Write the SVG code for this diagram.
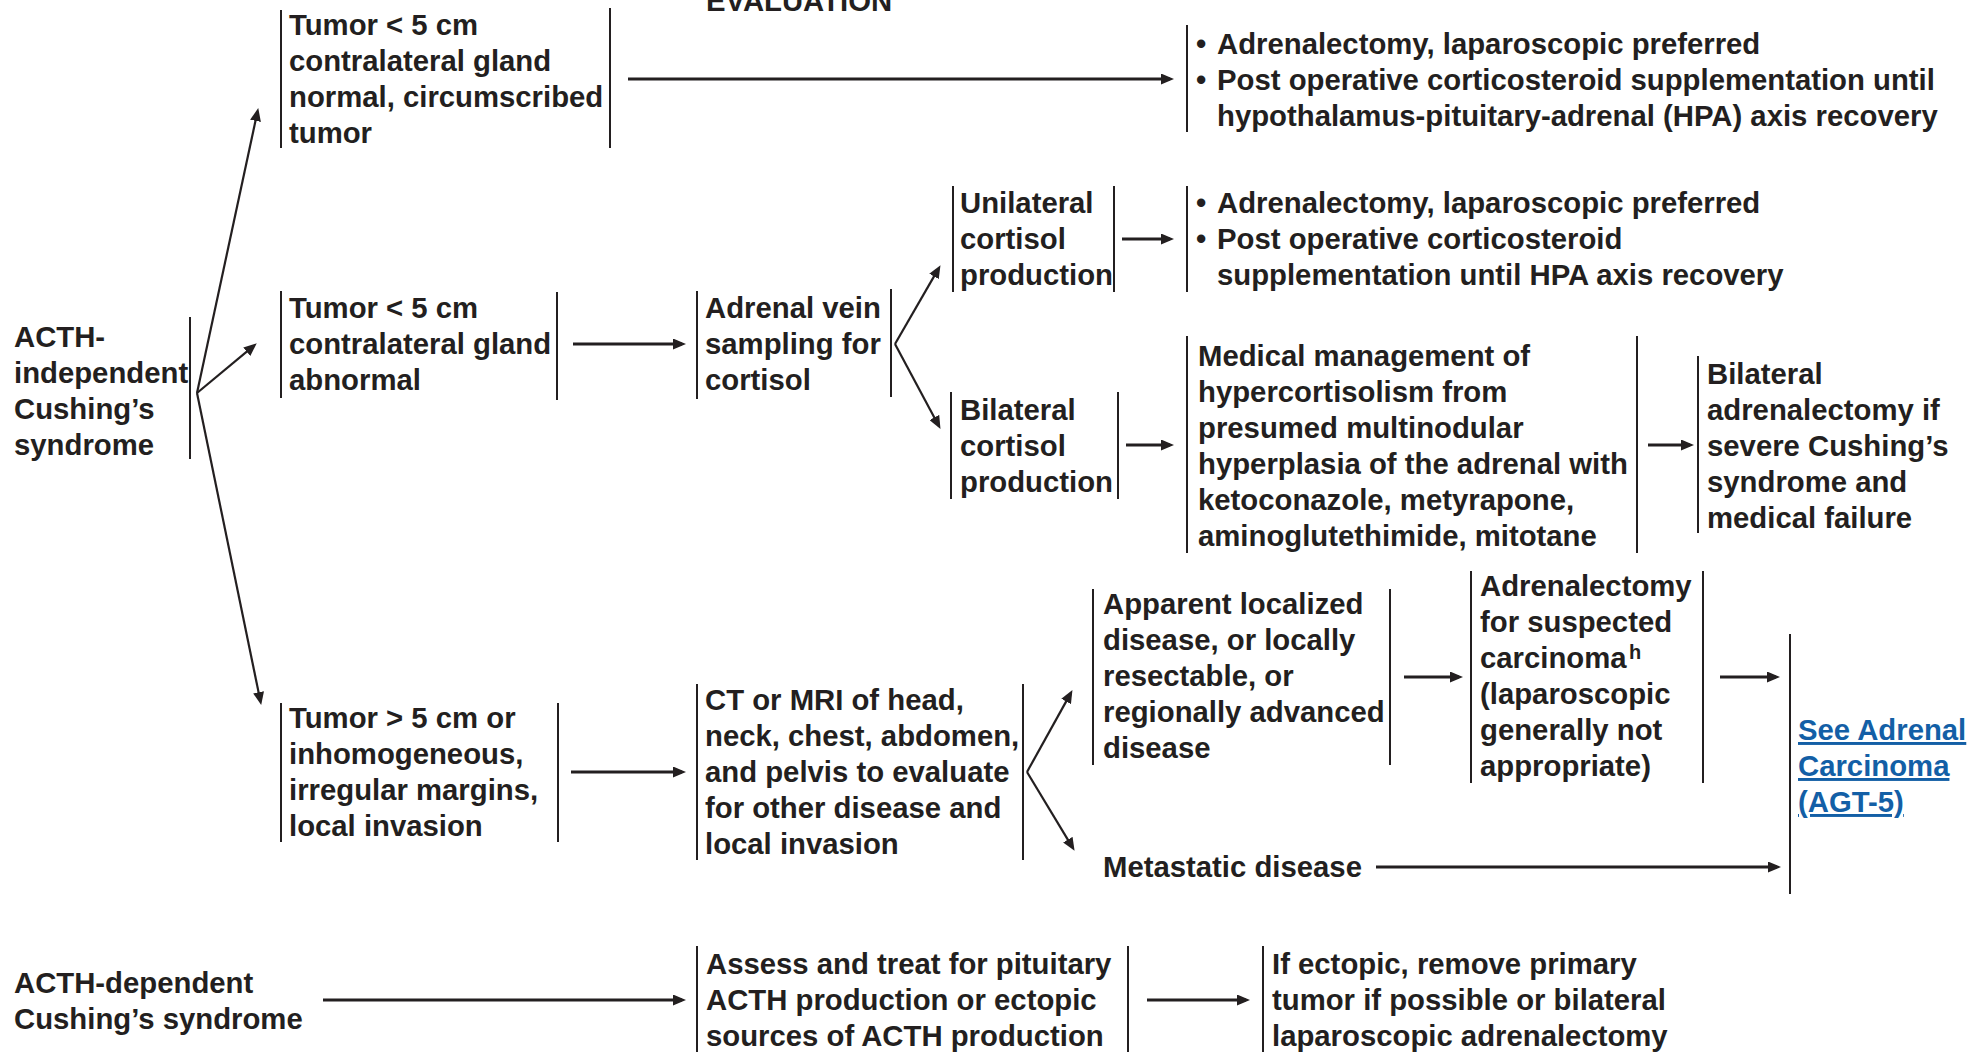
<svg xmlns="http://www.w3.org/2000/svg" width="1988" height="1052" viewBox="0 0 1988 1052">
<style>
  text { font-family: "Liberation Sans", Arial, sans-serif; font-weight: bold; font-size: 29.3px; fill: #231f20; }
  .sup { font-size: 20px; }
  .link { fill: #135fa6; text-decoration: underline; }
  .bar { stroke: #231f20; stroke-width: 2; fill: none; }
  .arr { stroke: #231f20; stroke-width: 2.8; fill: none; marker-end: url(#ah); }
  .br { stroke: #231f20; stroke-width: 2.2; fill: none; marker-end: url(#ah); }
</style>
<defs>
  <marker id="ah" markerUnits="userSpaceOnUse" markerWidth="13" markerHeight="11" refX="9" refY="5.5" orient="auto">
    <path d="M0,0 L13,5.5 L0,11 z" fill="#231f20"/>
  </marker>
</defs>
<rect width="1988" height="1052" fill="#ffffff"/>

<text x="706" y="11">EVALUATION</text>

<g id="acth-independent">
  <text x="14" y="347">ACTH-</text>
  <text x="14" y="383">independent</text>
  <text x="14" y="419">Cushing’s</text>
  <text x="14" y="455">syndrome</text>
  <line class="bar" x1="190" y1="317" x2="190" y2="459"/>
</g>

<g id="tumor-normal">
  <line class="bar" x1="281" y1="10" x2="281" y2="148"/>
  <text x="289" y="35">Tumor &lt; 5 cm</text>
  <text x="289" y="71">contralateral gland</text>
  <text x="289" y="107">normal, circumscribed</text>
  <text x="289" y="143">tumor</text>
  <line class="bar" x1="610" y1="8" x2="610" y2="148"/>
</g>

<g id="result-top">
  <line class="bar" x1="1187" y1="25" x2="1187" y2="132"/>
  <text x="1196" y="54">•</text>
  <text x="1217" y="54">Adrenalectomy, laparoscopic preferred</text>
  <text x="1196" y="90">•</text>
  <text x="1217" y="90">Post operative corticosteroid supplementation until</text>
  <text x="1217" y="126">hypothalamus-pituitary-adrenal (HPA) axis recovery</text>
</g>

<g id="tumor-abnormal">
  <line class="bar" x1="281" y1="291" x2="281" y2="398"/>
  <text x="289" y="318">Tumor &lt; 5 cm</text>
  <text x="289" y="354">contralateral gland</text>
  <text x="289" y="390">abnormal</text>
  <line class="bar" x1="557" y1="292" x2="557" y2="400"/>
</g>

<g id="avs">
  <line class="bar" x1="697" y1="291" x2="697" y2="399"/>
  <text x="705" y="318">Adrenal vein</text>
  <text x="705" y="354">sampling for</text>
  <text x="705" y="390">cortisol</text>
  <line class="bar" x1="891" y1="289" x2="891" y2="397"/>
</g>

<g id="unilateral">
  <line class="bar" x1="953" y1="186" x2="953" y2="292"/>
  <text x="960" y="213">Unilateral</text>
  <text x="960" y="249">cortisol</text>
  <text x="960" y="285">production</text>
  <line class="bar" x1="1114" y1="186" x2="1114" y2="292"/>
</g>

<g id="result-unilateral">
  <line class="bar" x1="1187" y1="186" x2="1187" y2="292"/>
  <text x="1196" y="213">•</text>
  <text x="1217" y="213">Adrenalectomy, laparoscopic preferred</text>
  <text x="1196" y="249">•</text>
  <text x="1217" y="249">Post operative corticosteroid</text>
  <text x="1217" y="285">supplementation until HPA axis recovery</text>
</g>

<g id="bilateral">
  <line class="bar" x1="951" y1="392" x2="951" y2="499"/>
  <text x="960" y="420">Bilateral</text>
  <text x="960" y="456">cortisol</text>
  <text x="960" y="492">production</text>
  <line class="bar" x1="1118" y1="392" x2="1118" y2="499"/>
</g>

<g id="medical">
  <line class="bar" x1="1187" y1="336" x2="1187" y2="553"/>
  <text x="1198" y="366">Medical management of</text>
  <text x="1198" y="402">hypercortisolism from</text>
  <text x="1198" y="438">presumed multinodular</text>
  <text x="1198" y="474">hyperplasia of the adrenal with</text>
  <text x="1198" y="510">ketoconazole, metyrapone,</text>
  <text x="1198" y="546">aminoglutethimide, mitotane</text>
  <line class="bar" x1="1637" y1="336" x2="1637" y2="553"/>
</g>

<g id="bilateral-adrenalectomy">
  <line class="bar" x1="1698" y1="356" x2="1698" y2="533"/>
  <text x="1707" y="384">Bilateral</text>
  <text x="1707" y="420">adrenalectomy if</text>
  <text x="1707" y="456">severe Cushing’s</text>
  <text x="1707" y="492">syndrome and</text>
  <text x="1707" y="528">medical failure</text>
</g>

<g id="tumor-large">
  <line class="bar" x1="281" y1="703" x2="281" y2="842"/>
  <text x="289" y="728">Tumor &gt; 5 cm or</text>
  <text x="289" y="764">inhomogeneous,</text>
  <text x="289" y="800">irregular margins,</text>
  <text x="289" y="836">local invasion</text>
  <line class="bar" x1="558" y1="703" x2="558" y2="842"/>
</g>

<g id="ct-mri">
  <line class="bar" x1="697" y1="684" x2="697" y2="860"/>
  <text x="705" y="710">CT or MRI of head,</text>
  <text x="705" y="746">neck, chest, abdomen,</text>
  <text x="705" y="782">and pelvis to evaluate</text>
  <text x="705" y="818">for other disease and</text>
  <text x="705" y="854">local invasion</text>
  <line class="bar" x1="1023" y1="684" x2="1023" y2="860"/>
</g>

<g id="localized">
  <line class="bar" x1="1093" y1="589" x2="1093" y2="765"/>
  <text x="1103" y="614">Apparent localized</text>
  <text x="1103" y="650">disease, or locally</text>
  <text x="1103" y="686">resectable, or</text>
  <text x="1103" y="722">regionally advanced</text>
  <text x="1103" y="758">disease</text>
  <line class="bar" x1="1390" y1="589" x2="1390" y2="765"/>
</g>

<g id="adrenalectomy-carcinoma">
  <line class="bar" x1="1471" y1="571" x2="1471" y2="783"/>
  <text x="1480" y="596">Adrenalectomy</text>
  <text x="1480" y="632">for suspected</text>
  <text x="1480" y="668">carcinoma</text>
  <text class="sup" x="1629" y="659">h</text>
  <text x="1480" y="704">(laparoscopic</text>
  <text x="1480" y="740">generally not</text>
  <text x="1480" y="776">appropriate)</text>
  <line class="bar" x1="1703" y1="571" x2="1703" y2="783"/>
</g>

<g id="metastatic">
  <text x="1103" y="877">Metastatic disease</text>
</g>

<g id="see-adrenal-carcinoma">
  <line class="bar" x1="1790" y1="634" x2="1790" y2="894"/>
  <text class="link" x="1798" y="740">See Adrenal</text>
  <text class="link" x="1798" y="776">Carcinoma</text>
  <text class="link" x="1798" y="812">(AGT-5)</text>
</g>

<g id="acth-dependent">
  <text x="14" y="993">ACTH-dependent</text>
  <text x="14" y="1029">Cushing’s syndrome</text>
</g>

<g id="assess">
  <line class="bar" x1="697" y1="946" x2="697" y2="1052"/>
  <text x="706" y="974">Assess and treat for pituitary</text>
  <text x="706" y="1010">ACTH production or ectopic</text>
  <text x="706" y="1046">sources of ACTH production</text>
  <line class="bar" x1="1128" y1="946" x2="1128" y2="1052"/>
</g>

<g id="ectopic">
  <line class="bar" x1="1263" y1="946" x2="1263" y2="1052"/>
  <text x="1272" y="974">If ectopic, remove primary</text>
  <text x="1272" y="1010">tumor if possible or bilateral</text>
  <text x="1272" y="1046">laparoscopic adrenalectomy</text>
</g>

<g id="connectors">
  <line class="br" x1="197" y1="393" x2="257.4" y2="112"/>
  <line class="br" x1="197" y1="393" x2="253.7" y2="345.9"/>
  <line class="br" x1="197" y1="393" x2="260.4" y2="701.1"/>
  <line class="arr" x1="628" y1="79" x2="1170" y2="79"/>
  <line class="arr" x1="573" y1="344" x2="682" y2="344"/>
  <line class="br" x1="895" y1="344" x2="938.5" y2="268.6"/>
  <line class="br" x1="895" y1="344" x2="938.6" y2="425.4"/>
  <line class="arr" x1="1122" y1="239" x2="1170" y2="239"/>
  <line class="arr" x1="1126" y1="445" x2="1170" y2="445"/>
  <line class="arr" x1="1648" y1="445" x2="1690" y2="445"/>
  <line class="arr" x1="571" y1="772" x2="682" y2="772"/>
  <line class="br" x1="1027" y1="772" x2="1070.5" y2="693.6"/>
  <line class="br" x1="1027" y1="772" x2="1072.5" y2="847.4"/>
  <line class="arr" x1="1404" y1="677" x2="1459" y2="677"/>
  <line class="arr" x1="1720" y1="677" x2="1776" y2="677"/>
  <line class="arr" x1="1376" y1="867" x2="1777" y2="867"/>
  <line class="arr" x1="323" y1="1000" x2="682" y2="1000"/>
  <line class="arr" x1="1147" y1="1000" x2="1246" y2="1000"/>
</g>
</svg>
